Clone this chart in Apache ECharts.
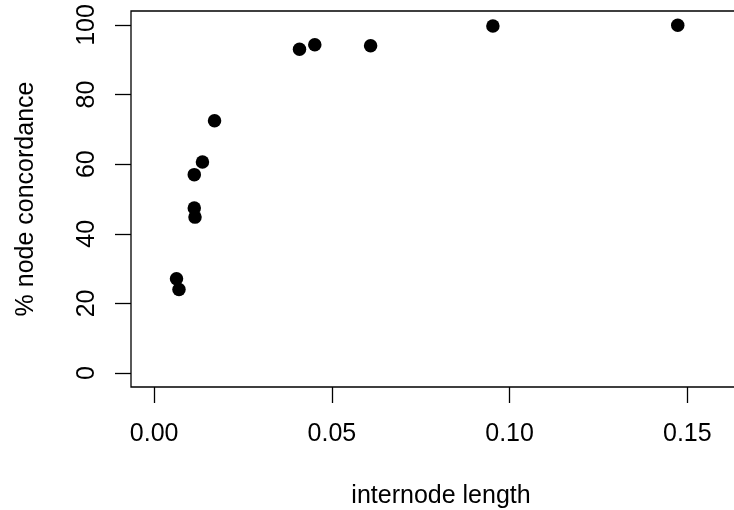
<!DOCTYPE html>
<html lang="en">
<head>
    <meta charset="UTF-8">
    <script src="https://cdn.jsdelivr.net/npm/echarts@6/dist/echarts.min.js"></script>
</head>
<body style="margin:0;background:#fff">
<div id="scatter" style="width: 734px;height: 510px"></div>
<script>
    // internode length vs % node concordance
    var internodeLength = [0.0170, 0.0136, 0.0113, 0.0113, 0.0115, 0.0063, 0.0070,
        0.0409, 0.0452, 0.0609, 0.0953, 0.1473];
    var concordance = [72.5, 60.6, 57.0, 47.4, 44.8, 27.1, 24.0,
        93.0, 94.3, 94.0, 99.7, 99.9];
    var xTicks = [0, 0.05, 0.10, 0.15];
    var yTicks = [0, 20, 40, 60, 80, 100];

    var points = [];
    for (var i = 0; i < internodeLength.length; i++) {
        points.push([internodeLength[i], concordance[i]]);
    }

    var font = 'Liberation Sans, Arial, sans-serif';
    var chart = echarts.init(document.getElementById('scatter'));
    var option = {
        animation: false,
        grid: {
            left: 131, top: 11, width: 620, height: 376,
            outerBoundsMode: 'none',
            containLabel: false,
            show: true, borderColor: '#000', borderWidth: 1.3
        },
        xAxis: {
            type: 'value',
            min: -0.0065,
            max: (131 + 620 - 154) / 3555.6,
            name: 'internode length',
            nameLocation: 'middle',
            nameGap: 97,
            nameTextStyle: {color: '#000', fontSize: 25, fontFamily: font},
            splitLine: {show: false},
            axisLine: {show: false, onZero: false},
            axisTick: {
                show: true, inside: false, customValues: xTicks, length: 16,
                lineStyle: {color: '#000', width: 1.3}
            },
            axisLabel: {
                customValues: xTicks, margin: 35,
                color: '#000', fontSize: 25, fontFamily: font,
                formatter: function (v) { return v.toFixed(2); }
            }
        },
        yAxis: {
            type: 'value',
            min: -4,
            max: 104,
            name: '% node concordance',
            nameLocation: 'middle',
            nameGap: 92,
            nameTextStyle: {color: '#000', fontSize: 25, fontFamily: font},
            splitLine: {show: false},
            axisLine: {show: false, onZero: false},
            axisTick: {
                show: true, inside: false, customValues: yTicks, length: 16,
                lineStyle: {color: '#000', width: 1.3}
            },
            axisLabel: {
                customValues: yTicks, margin: 31, rotate: 90,
                color: '#000', fontSize: 25, fontFamily: font
            }
        },
        series: [{
            type: 'scatter',
            data: points,
            symbol: 'circle',
            symbolSize: 13.5,
            itemStyle: {color: '#000', opacity: 1}
        }]
    };
    chart.setOption(option);
</script>
</body>
</html>
